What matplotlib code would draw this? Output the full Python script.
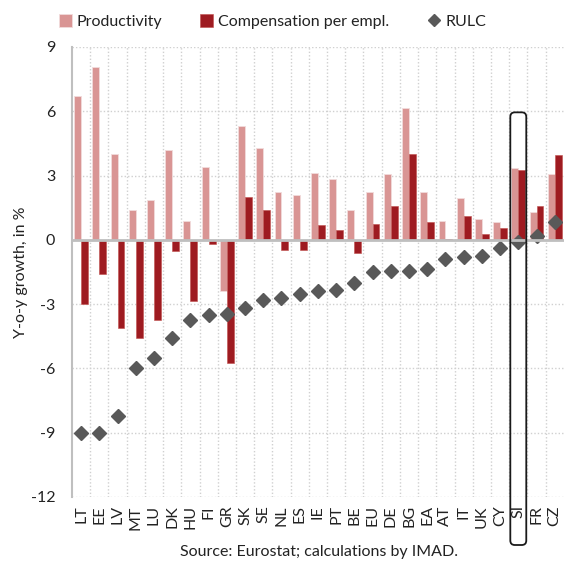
import matplotlib
matplotlib.use("Agg")
import matplotlib.pyplot as plt
import numpy as np
from matplotlib.patches import FancyBboxPatch

countries = ["LT", "EE", "LV", "MT", "LU", "DK", "HU", "FI", "GR", "SK", "SE", "NL", "ES", "IE",
             "PT", "BE", "EU", "DE", "BG", "EA", "AT", "IT", "UK", "CY", "SI", "FR", "CZ"]
productivity = [6.7, 8.05, 4.0, 1.37, 1.87, 4.17, 0.9, 3.4, -2.4, 5.33, 4.29, 2.21, 2.07, 3.12,
                2.85, 1.38, 2.21, 3.05, 6.17, 2.21, 0.89, 1.94, 0.96, 0.82, 3.33, 1.32, 3.05]
compensation = [-2.98, -1.58, -4.1, -4.58, -3.73, -0.53, -2.84, -0.18, -5.76, 2.02, 1.37, -0.47, -0.47, 0.7,
                0.48, -0.61, 0.75, 1.6, 4.0, 0.82, 0.06, 1.12, 0.28, 0.54, 3.25, 1.6, 3.97]
rulc = [-9.0, -9.0, -8.24, -6.0, -5.5, -4.6, -3.76, -3.5, -3.46, -3.16, -2.83, -2.7, -2.52, -2.4,
        -2.35, -2.0, -1.48, -1.45, -1.45, -1.35, -0.9, -0.82, -0.76, -0.39, -0.1, 0.2, 0.81]
yticks = [9, 6, 3, 0, -3, -6, -9, -12]
highlight = "SI"

plt.rcParams['font.family'] = ['Lato', 'DejaVu Sans']

c_prod = "#D99594"
c_comp = "#9E1B21"
c_rulc = "#595959"
grid_c = "#D0D0D0"

fig = plt.figure(figsize=(5.64, 5.62), dpi=100)
ax = fig.add_axes([0.1277, 0.1157, 0.872, 0.8007])

x = np.arange(len(countries))
w = 0.38
h1 = ax.bar(x - w / 2, productivity, width=w, color=c_prod, edgecolor="#F2DCDB", linewidth=0.6, zorder=3,
            label="Productivity")
h2 = ax.bar(x + w / 2, compensation, width=w, color=c_comp, edgecolor="#C0504D", linewidth=0.4, zorder=3,
            label="Compensation per empl.")
h3, = ax.plot(x, rulc, linestyle="none", marker="D", markersize=7.5, color=c_rulc, zorder=4, label="RULC")

ax.set_xlim(-0.5, len(countries) - 0.5)
ax.set_ylim(-12, 9)
ax.set_yticks(yticks)
ax.set_yticklabels([str(t) for t in yticks], fontsize=11.5, color="#222222")
ax.set_xticks(x)
ax.set_xticklabels(countries, rotation=90, fontsize=11.5, color="#222222")
ax.tick_params(axis="both", length=0)
ax.tick_params(axis="y", pad=12)
ax.tick_params(axis="x", pad=6)

# gridlines
for yv in yticks:
    if yv != 0:
        ax.axhline(yv, color=grid_c, linestyle=(0, (1.0, 1.5)), linewidth=1.0, zorder=1)
for xv in np.arange(0.5, len(countries) - 0.5, 1):
    ax.axvline(xv, color=grid_c, linestyle=(0, (1.0, 1.5)), linewidth=1.0, zorder=1)
ax.axhline(0, color="#BFBFBF", linewidth=2.0, zorder=5)

for s in ["top", "right", "bottom"]:
    ax.spines[s].set_visible(False)
ax.spines["left"].set_color("#BFBFBF")
ax.spines["left"].set_linewidth(1.5)

ax.set_ylabel("Y-o-y growth, in %", fontsize=11.5, color="#222222", labelpad=2)

# highlight rounded box around SI
hi = countries.index(highlight)
x0d, _ = ax.transData.transform((hi - 0.5, 0))
x1d, _ = ax.transData.transform((hi + 0.5, 0))
_, ytopd = ax.transData.transform((0, 5.95))
inv = fig.transFigure.inverted()
fx0, fy0 = inv.transform((x0d, 0))
fx1, fytop = inv.transform((x1d, ytopd))
fybot = 1 - 545 / 562
box = FancyBboxPatch((fx0 + 0.002, fybot), (fx1 - fx0) - 0.004, fytop - fybot,
                     boxstyle="round,pad=0,rounding_size=0.008", transform=fig.transFigure,
                     fill=False, edgecolor="#1a1a1a", linewidth=1.3, clip_on=False, zorder=10)
fig.patches.append(box)

leg = fig.legend(handles=[h1, h2, h3], labels=["Productivity", "Compensation per empl.", "RULC"],
                 loc="upper center", bbox_to_anchor=(0.483, 1.0), ncol=3, frameon=False,
                 fontsize=11.5, handlelength=0.8, handleheight=0.8, handletextpad=0.3,
                 columnspacing=2.4, markerscale=0.8)
for t in leg.get_texts():
    t.set_color("#222222")

fig.text(0.565, 1 - 552 / 562, "Source: Eurostat; calculations by IMAD.", ha="center", va="center",
         fontsize=11.5, color="#222222")

fig.savefig("out.png", dpi=100)
